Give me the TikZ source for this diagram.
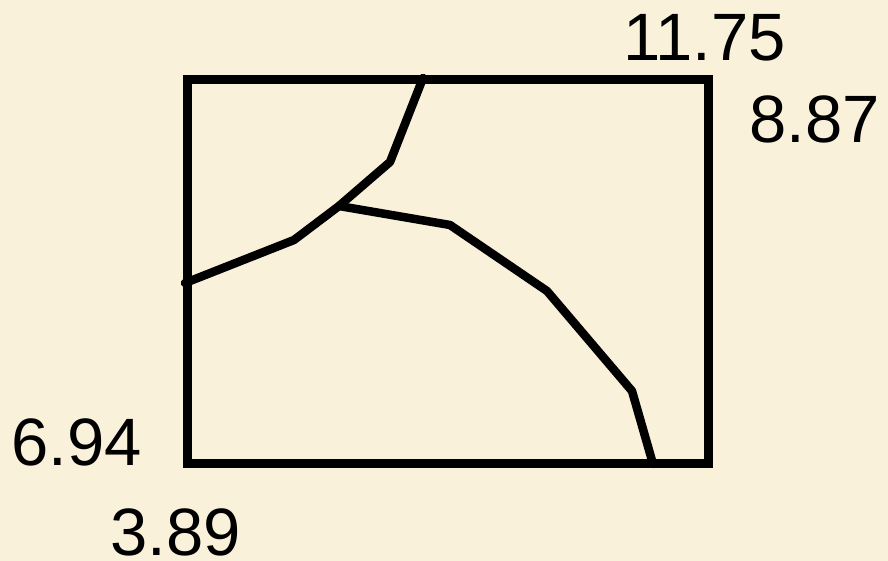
\documentclass[tikz,border=0pt]{standalone}
\usepackage{fontspec}
\setmainfont{Liberation Sans}
\definecolor{parch}{RGB}{250,241,218}
\tikzset{
  edge/.style={line width=8.5pt, line join=round, line cap=round},
  lbl/.style={anchor=base west, inner sep=0pt, font=\fontsize{67}{67}\selectfont}
}
\begin{document}
\begin{tikzpicture}[x=1pt,y=-1pt]
\fill[parch] (0,0) rectangle (888,561);
\useasboundingbox (0,0) rectangle (888,561);
\draw[line width=9pt, line join=miter] (187,80) rectangle (708,463);
\coordinate (top) at (423,78);
\coordinate (a1) at (390,162);
\coordinate (j) at (339,206);
\coordinate (a2) at (294,240);
\coordinate (left) at (185,283);
\coordinate (b1) at (450,225);
\coordinate (b2) at (547,291);
\coordinate (b3) at (632,391);
\coordinate (bot) at (653,464);
\draw[edge] (top) -- (a1) -- (j) -- (a2) -- (left);
\draw[edge] (j) -- (b1) -- (b2) -- (b3) -- (bot);
\node[lbl] (t1) at (623,61) {11.75};
\node[lbl] (t2) at (749,143) {8.87};
\node[lbl] (t3) at (11,465) {6.94};
\node[lbl] (t4) at (110,555) {3.89};
\end{tikzpicture}
\end{document}
